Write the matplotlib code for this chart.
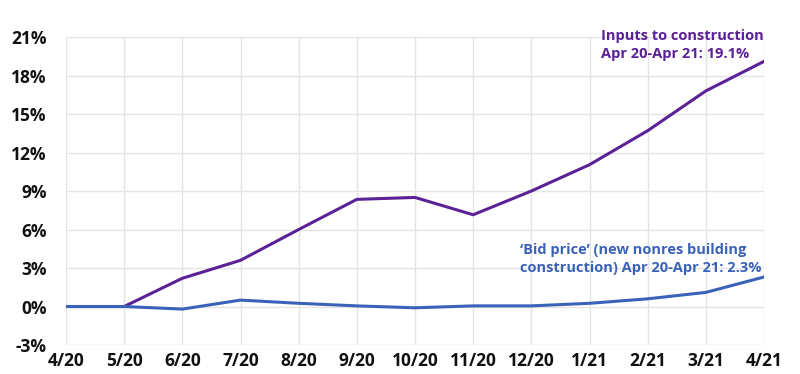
import matplotlib.pyplot as plt
from matplotlib.ticker import FuncFormatter

months = ["4/20", "5/20", "6/20", "7/20", "8/20", "9/20", "10/20", "11/20",
          "12/20", "1/21", "2/21", "3/21", "4/21"]
inputs = [0, 0, 2.2, 3.6, 6.0, 8.35, 8.5, 7.15, 9.0, 11.05, 13.7, 16.8, 19.1]
bid = [0, 0, -0.2, 0.5, 0.25, 0.05, -0.1, 0.05, 0.05, 0.25, 0.6, 1.1, 2.3]
yticks = [-3, 0, 3, 6, 9, 12, 15, 18, 21]

purple = "#5b2196"
blue = "#3a62b8"
plt.rcParams["font.family"] = ["Open Sans", "DejaVu Sans"]

fig = plt.figure(figsize=(8, 3.74), dpi=100)
ax = fig.add_axes([0.0825, 0.0775, 0.8725, 0.8235])

x = range(len(months))
ax.plot(x, inputs, color=purple, lw=2.2)
ax.plot(x, bid, color=blue, lw=2.2)

ax.set_xlim(0, len(months) - 1)
ax.set_ylim(-3, 21)
ax.set_xticks(list(x))
ax.set_xticklabels(months)
ax.set_yticks(yticks)
ax.yaxis.set_major_formatter(FuncFormatter(lambda v, p: "%d%%" % v))
for lab in ax.get_xticklabels() + ax.get_yticklabels():
    lab.set_fontweight("bold")
    lab.set_fontsize(12.5)
    lab.set_color("#111111")
ax.tick_params(axis="y", length=0, pad=14)
ax.tick_params(axis="x", length=0, pad=5)
ax.grid(color="#e4e4e4", lw=1)
ax.set_axisbelow(True)
for s in ax.spines.values():
    s.set_visible(False)

ax.text(0.766, 1.025, "Inputs to construction\nApr 20-Apr 21: 19.1%",
        transform=ax.transAxes, color=purple, fontsize=10.5,
        fontweight="bold", va="top", ha="left", linespacing=1.35)
ax.text(0.65, 0.33, "\u2018Bid price\u2019 (new nonres building\nconstruction) Apr 20-Apr 21: 2.3%",
        transform=ax.transAxes, color=blue, fontsize=10.5,
        fontweight="bold", va="top", ha="left", linespacing=1.35)

fig.savefig("out.png", dpi=100)
